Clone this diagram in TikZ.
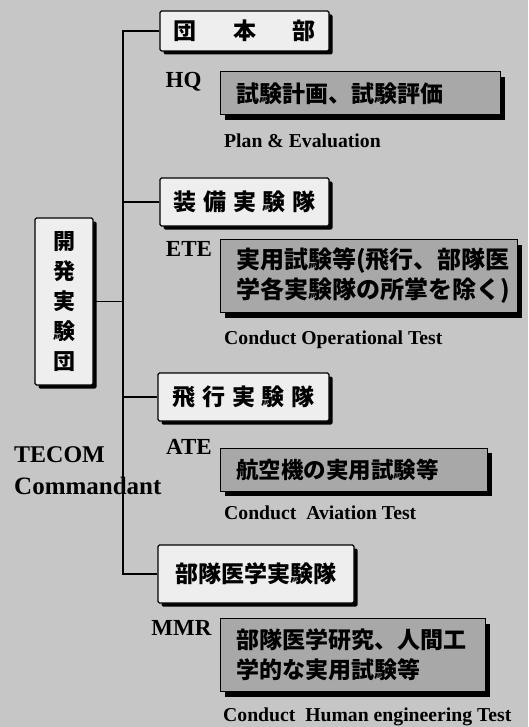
\documentclass[tikz,border=0pt]{standalone}
\usepackage{fontspec}
\setmainfont{Liberation Serif}
\newfontfamily\jp{Noto Sans CJK JP}
\usetikzlibrary{shadows}
\definecolor{bgc}{RGB}{198,198,198}
\definecolor{boxw}{RGB}{238,238,238}
\definecolor{boxg}{RGB}{168,168,168}
\tikzset{
  whitebox/.style={draw=black, line width=1.2pt, fill=boxw, rounded corners=1.5pt,
    drop shadow={shadow xshift=3.5pt, shadow yshift=-3.5pt, opacity=1, fill=black},
    inner sep=0pt, font=\jp\bfseries\fontsize{23}{26}\selectfont},
  graybox/.style={draw=black, line width=1pt, fill=boxg,
    drop shadow={shadow xshift=5pt, shadow yshift=-5pt, opacity=1, fill=black},
    inner sep=0pt, align=left, font=\jp\bfseries\fontsize{23}{30}\selectfont},
  tag/.style={font=\bfseries\fontsize{23}{25}\selectfont, inner sep=0pt},
  desc/.style={font=\bfseries\fontsize{19.7}{21}\selectfont, inner sep=0pt, anchor=west},
  conn/.style={draw=black, line width=1.2pt}
}
\begin{document}
\begin{tikzpicture}[x=1pt,y=-1pt]
\fill[bgc] (0,0) rectangle (528,727);
\useasboundingbox (0,0) rectangle (528,727);
% unit boxes
\node[whitebox, minimum width=169pt, minimum height=40pt] (hq) at (244.5,31) {団\hspace{1.6em}本\hspace{1.6em}部};
\node[whitebox, minimum width=169pt, minimum height=48pt] (ete) at (244.5,202) {装\hspace{0.3em}備\hspace{0.3em}実\hspace{0.3em}験\hspace{0.3em}隊};
\node[whitebox, minimum width=171pt, minimum height=48pt] (ate) at (243.5,397) {飛\hspace{0.3em}行\hspace{0.3em}実\hspace{0.3em}験\hspace{0.3em}隊};
\node[whitebox, minimum width=196pt, minimum height=58pt] (mmr) at (256,574) {部隊医学実験隊};
\node[whitebox, minimum width=58pt, minimum height=167pt, align=center,
  font=\jp\bfseries\fontsize{22}{30}\selectfont] (root) at (64,301.5) {開\\発\\実\\験\\団};
% trunk
\coordinate (tx) at (123,0);
\draw[conn] (hq.west) -- (hq.west -| tx) |- (mmr.west);
\draw[conn] (ete.west) -- (ete.west -| tx);
\draw[conn] (ate.west) -- (ate.west -| tx);
\draw[conn] (root.east) -- (root.east -| tx);
% mission boxes
\node[graybox, minimum width=280pt, minimum height=43pt, text width=280pt] (g1) at (360,93.5) {\hspace*{16pt}試験計画、試験評価};
\node[graybox, minimum width=297pt, minimum height=73pt, text width=297pt,
  font=\jp\bfseries\fontsize{24}{30}\selectfont] (g2) at (368.5,276) {\hspace*{16pt}実用試験等(飛行、部隊医\\\hspace*{16pt}学各実験隊の所掌を除く)};
\node[graybox, minimum width=267pt, minimum height=43pt, text width=267pt,
  font=\jp\bfseries\fontsize{22.5}{30}\selectfont] (g3) at (353.5,469.5) {\hspace*{16pt}航空機の実用試験等};
\node[graybox, minimum width=265pt, minimum height=73pt, text width=265pt] (g4) at (352.5,655) {\hspace*{16pt}部隊医学研究、人間工\\\hspace*{16pt}学的な実用試験等};
% labels
\node[tag] (lhq) at (183.5,82) {HQ};
\node[tag] (lete) at (189,249) {ETE};
\node[tag] (late) at (189,447) {ATE};
\node[tag] (lmmr) at (181.5,628) {MMR};
\node[tag, anchor=west, font=\bfseries\fontsize{24}{26}\selectfont] (tecom) at (14,455) {TECOM};
\node[tag, anchor=west, font=\bfseries\fontsize{25}{27}\selectfont] (comm) at (14,486) {Commandant};
% descriptions
\node[desc] (d1) at (224,141) {Plan \& Evaluation};
\node[desc] (d2) at (224,340) {Conduct Operational Test};
\node[desc] (d3) at (224,513) {Conduct\ \ Aviation Test};
\node[desc] (d4) at (223,717) {Conduct\ \ Human engineering Test};
\end{tikzpicture}
\end{document}
